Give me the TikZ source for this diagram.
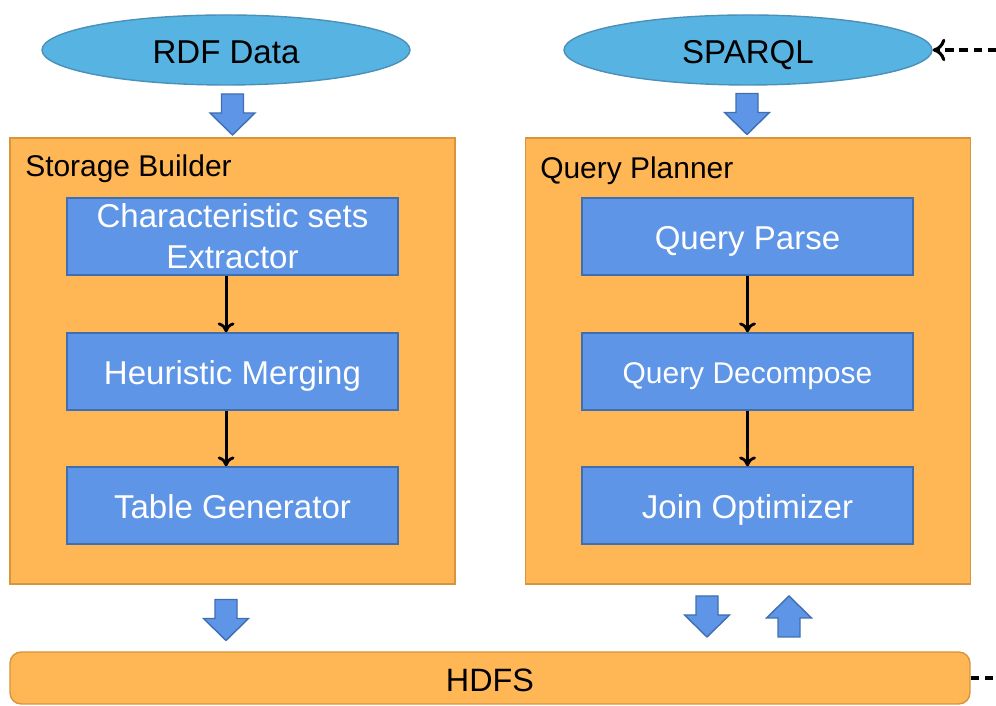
\documentclass[tikz,border=0pt]{standalone}
\usepackage{fontspec}
\setmainfont{Liberation Sans}
\usepackage{tikz}
\usetikzlibrary{positioning,arrows.meta,shapes.geometric}
\usepackage{xcolor}
\definecolor{dgsky}{HTML}{57B4E2}
\definecolor{dgskyline}{HTML}{4A90B8}
\definecolor{dgorange}{HTML}{FFB655}
\definecolor{dgorangeline}{HTML}{D8953C}
\definecolor{dgblue}{HTML}{5E95E6}
\definecolor{dgblueline}{HTML}{3F6FB0}

\tikzset{
  oneline/.style={text height=21pt, text depth=2.4pt},
  smallline/.style={text height=19pt, text depth=2.1pt},
  source/.style={ellipse, draw=dgskyline, line width=1pt, fill=dgsky, oneline,
    minimum width=9.2cm, minimum height=1.75cm, font=\fontsize{23.5}{28}\selectfont},
  module/.style={draw=dgorangeline, line width=1pt, fill=dgorange,
    minimum width=11.12cm, minimum height=11.15cm},
  title/.style={anchor=west, inner sep=0pt, smallline, font=\fontsize{21.3}{26}\selectfont},
  stage/.style={draw=dgblueline, line width=1pt, fill=dgblue, text=white,
    minimum width=8.275cm, minimum height=1.925cm, align=center,
    font=\fontsize{23.5}{29}\selectfont},
  flow/.style={line width=2pt, -{To[length=7pt,width=12pt]}},
  feed/.style={line width=2.2pt, dash pattern=on 6pt off 4pt},
  blockarr/.style={draw=dgblueline, line width=1pt, fill=dgblue},
  blkdown/.pic={
    \draw[blockarr] (-0.275,0.5125) -- (0.275,0.5125) -- (0.275,0.0375)
      -- (0.5625,0.0375) -- (0,-0.5125) -- (-0.5625,0.0375)
      -- (-0.275,0.0375) -- cycle;
  }
}

\begin{document}
\begin{tikzpicture}
  \useasboundingbox (0,0) rectangle (24.9,17.65);
  % inputs
  \node[source] (rdf) at (5.65,16.4) {RDF Data};
  \node[source] (sparql) at (18.7,16.4) {SPARQL};
  \coordinate (qin) at (24.9,16.4);
  \draw[feed, -{To[length=9pt,width=16pt]}] (qin) -- (sparql.east);

  % the two modules
  \node[module] (builder) at (5.8125,8.625) {};
  \node[module] (planner) at (18.7,8.625) {};
  \node[title] (sblabel) at (0.625,13.525) {Storage Builder};
  \node[title] (qplabel) at (13.5,13.475) {Query Planner};

  % storage builder stages
  \node[stage] (cse) at (5.8125,11.7375) {Characteristic sets\\Extractor};
  \node[stage, oneline] (merge) at (5.8125,8.3625) {Heuristic Merging};
  \node[stage, oneline] (tgen) at (5.8125,5.0125) {Table Generator};
  \draw[flow] ([xshift=-0.16cm]cse.south) -- ([xshift=-0.16cm]merge.north);
  \draw[flow] ([xshift=-0.16cm]merge.south) -- ([xshift=-0.16cm]tgen.north);

  % query planner stages
  \node[stage, oneline] (parse) at (18.6875,11.7375) {Query Parse};
  \node[stage, smallline, font=\fontsize{21.3}{26}\selectfont] (decomp) at (18.6875,8.3625) {Query Decompose};
  \node[stage, oneline] (joinopt) at (18.6875,5.0125) {Join Optimizer};
  \draw[flow] (parse) -- (decomp);
  \draw[flow] (decomp) -- (joinopt);

  % storage layer
  \node[draw=dgorangeline, line width=1pt, fill=dgorange, rounded corners=8pt, oneline,
    minimum width=24cm, minimum height=1.3cm, font=\fontsize{23}{28}\selectfont]
    (hdfs) at (12.25,0.7) {HDFS};
  \coordinate (hout) at (24.9,0.7);
  \draw[feed] (hdfs.east) -- (hout);

  % block arrows
  \pic at (5.8125,14.7875) {blkdown};
  \pic at (18.675,14.8) {blkdown};
  \pic at (5.65,2.15) {blkdown};
  \pic at (17.675,2.2375) {blkdown};
  \pic[rotate=180] at (19.725,2.2375) {blkdown};
\end{tikzpicture}
\end{document}
